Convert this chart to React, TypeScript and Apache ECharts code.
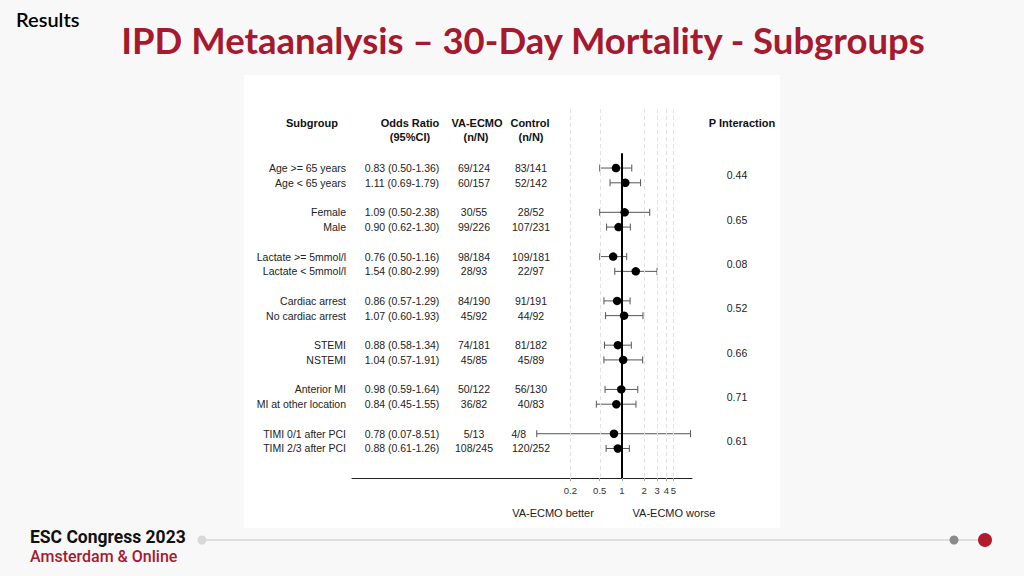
import React, { useEffect, useRef } from "react";
import * as echarts from "echarts";

const subgroups = [
  "Age >= 65 years", "Age < 65 years",
  "Female", "Male",
  "Lactate >= 5mmol/l", "Lactate < 5mmol/l",
  "Cardiac arrest", "No cardiac arrest",
  "STEMI", "NSTEMI",
  "Anterior MI", "MI at other location",
  "TIMI 0/1 after PCI", "TIMI 2/3 after PCI",
];
const oddsRatios = [0.83, 1.11, 1.09, 0.90, 0.76, 1.54, 0.86, 1.07, 0.88, 1.04, 0.98, 0.84, 0.78, 0.88];
const ciLow = [0.50, 0.69, 0.50, 0.62, 0.50, 0.80, 0.57, 0.60, 0.58, 0.57, 0.59, 0.45, 0.07, 0.61];
const ciHigh = [1.36, 1.79, 2.38, 1.30, 1.16, 2.99, 1.29, 1.93, 1.34, 1.91, 1.64, 1.55, 8.51, 1.26];
const ecmoCounts = ["69/124", "60/157", "30/55", "99/226", "98/184", "28/93", "84/190", "45/92", "74/181", "45/85", "50/122", "36/82", "5/13", "108/245"];
const controlCounts = ["83/141", "52/142", "28/52", "107/231", "109/181", "22/97", "91/191", "44/92", "81/182", "45/89", "56/130", "40/83", "4/8", "120/252"];
const pInteraction = ["0.44", "0.65", "0.08", "0.52", "0.66", "0.71", "0.61"];
const tickValues = [0.2, 0.5, 1, 2, 3, 4, 5];
const gridValues = [0.2, 0.5, 2, 3, 4, 5];

const X_MIN = -3.66;
const X_MAX = 0.95;
const Y_MIN = -4;
const Y_MAX = 21;

const rowY = subgroups.map((_, i) => Math.floor(i / 2) * 3 + (i % 2));
const lg = (v: number) => Math.log10(v);
const fmt = (v: number) => v.toFixed(2);

const TXT = "#222";
const BODY_FONT = "Liberation Sans, Arial, sans-serif";
const RED = "#a6192e";

export default function App() {
  const ref = useRef<HTMLDivElement>(null);

  useEffect(() => {
    document.body.style.margin = "0";
    if (!ref.current) return;
    const chart = echarts.init(ref.current, undefined, { renderer: "svg" });

    const bodyText = (text: string, x: number, align: string, y: number) => ({
      type: "text",
      x,
      y,
      style: {
        text,
        fill: TXT,
        fontSize: 10.5,
        fontFamily: BODY_FONT,
        textAlign: align,
        textVerticalAlign: "middle",
      },
    });

    const header = (text: string, x: number, y: number) => ({
      type: "text",
      x,
      y,
      style: {
        text,
        fill: "#111",
        fontSize: 11,
        fontWeight: "bold",
        fontFamily: BODY_FONT,
        textAlign: "center",
        textVerticalAlign: "middle",
      },
    });

    const option: any = {
      animation: false,
      backgroundColor: "transparent",
      grid: { left: 352, right: 332, top: 109, bottom: 98, containLabel: false },
      xAxis: {
        type: "value",
        min: X_MIN,
        max: X_MAX,
        axisLine: { show: true, onZero: false, lineStyle: { color: "#222", width: 1 } },
        axisTick: {
          show: true,
          length: 3,
          customValues: tickValues.map(lg),
          lineStyle: { color: "#aaa" },
        },
        axisLabel: {
          show: true,
          customValues: tickValues.map(lg),
          formatter: (v: number) => String(Math.round(Math.pow(10, v) * 10) / 10),
          fontSize: 9.5,
          color: "#333",
          fontFamily: BODY_FONT,
          margin: 7,
        },
        splitLine: { show: false },
      },
      yAxis: {
        type: "value",
        inverse: true,
        min: Y_MIN,
        max: Y_MAX,
        show: false,
      },
      series: [
        {
          type: "scatter",
          data: [],
          z: 1,
          silent: true,
          markLine: {
            silent: true,
            symbol: "none",
            label: { show: false },
            data: [
              ...gridValues.map((v) => ({
                xAxis: lg(v),
                lineStyle: { color: "#e2e2e2", type: [4, 3], width: 1 },
              })),
              [
                { coord: [0, -1], lineStyle: { color: "#000", width: 2, type: "solid" } },
                { coord: [0, Y_MAX] },
              ],
            ],
          },
        },
        {
          type: "custom",
          z: 3,
          silent: true,
          data: subgroups.map((_, i) => [lg(ciLow[i]), lg(ciHigh[i]), rowY[i]]),
          encode: { x: [0, 1], y: 2 },
          renderItem: (params: any, api: any) => {
            const lo = api.coord([api.value(0), api.value(2)]);
            const hi = api.coord([api.value(1), api.value(2)]);
            const h = 3.5;
            const st = { stroke: "#555", lineWidth: 1 };
            return {
              type: "group",
              children: [
                { type: "line", shape: { x1: lo[0], y1: lo[1], x2: hi[0], y2: hi[1] }, style: st },
                { type: "line", shape: { x1: lo[0], y1: lo[1] - h, x2: lo[0], y2: lo[1] + h }, style: st },
                { type: "line", shape: { x1: hi[0], y1: hi[1] - h, x2: hi[0], y2: hi[1] + h }, style: st },
              ],
            };
          },
        },
        {
          type: "scatter",
          z: 4,
          silent: true,
          symbol: "circle",
          symbolSize: 8.5,
          itemStyle: { color: "#000", opacity: 1 },
          data: subgroups.map((_, i) => [lg(oddsRatios[i]), rowY[i]]),
        },
        {
          type: "custom",
          z: 5,
          silent: true,
          clip: false,
          data: subgroups.map((_, i) => [X_MIN, rowY[i], i]),
          encode: { x: 0, y: 1 },
          renderItem: (params: any, api: any) => {
            const i = api.value(2);
            const y = api.coord([api.value(0), api.value(1)])[1];
            const loX = api.coord([lg(ciLow[i]), api.value(1)])[0];
            return {
              type: "group",
              children: [
                bodyText(subgroups[i], 346, "right", y),
                bodyText(`${fmt(oddsRatios[i])} (${fmt(ciLow[i])}-${fmt(ciHigh[i])})`, 402, "center", y),
                bodyText(ecmoCounts[i], 474, "center", y),
                bodyText(controlCounts[i], Math.min(531, loX - 18), "center", y),
              ],
            };
          },
        },
        {
          type: "custom",
          z: 5,
          silent: true,
          clip: false,
          data: pInteraction.map((_, g) => [X_MIN, g * 3 + 0.5, g]),
          encode: { x: 0, y: 1 },
          renderItem: (params: any, api: any) => {
            const g = api.value(2);
            const y = api.coord([api.value(0), api.value(1)])[1];
            return bodyText(pInteraction[g], 737, "center", y);
          },
        },
      ],
      graphic: [
        {
          type: "text",
          x: 16,
          y: 19,
          style: { text: "Results", fill: "#000", fontSize: 20, fontWeight: 600, fontFamily: "Lato, sans-serif", textVerticalAlign: "middle" },
        },
        {
          type: "text",
          x: 523,
          y: 40,
          style: {
            text: "IPD Metaanalysis \u2013 30-Day Mortality - Subgroups",
            fill: RED,
            fontSize: 36.5,
            fontWeight: "bold",
            fontFamily: "Lato, sans-serif",
            textAlign: "center",
            textVerticalAlign: "middle",
          },
        },
        header("Subgroup", 312, 123),
        header("Odds Ratio", 410, 123),
        header("(95%CI)", 410, 137),
        header("VA-ECMO", 477, 123),
        header("(n/N)", 476, 137),
        header("Control", 530, 123),
        header("(n/N)", 531, 137),
        header("P Interaction", 742, 123),
        {
          type: "text",
          x: 553,
          y: 513,
          style: { text: "VA-ECMO better", fill: TXT, fontSize: 11, fontFamily: BODY_FONT, textAlign: "center", textVerticalAlign: "middle" },
        },
        {
          type: "text",
          x: 674,
          y: 513,
          style: { text: "VA-ECMO worse", fill: TXT, fontSize: 11, fontFamily: BODY_FONT, textAlign: "center", textVerticalAlign: "middle" },
        },
        {
          type: "line",
          shape: { x1: 202, y1: 540, x2: 985, y2: 540 },
          style: { stroke: "#dedede", lineWidth: 2 },
        },
        { type: "circle", shape: { cx: 202, cy: 540, r: 4.5 }, style: { fill: "#d8d8d8" } },
        { type: "circle", shape: { cx: 954, cy: 540, r: 4.5 }, style: { fill: "#8a8a8a" } },
        { type: "circle", shape: { cx: 985, cy: 540, r: 7 }, style: { fill: "#b01b2e" } },
        {
          type: "text",
          x: 30,
          y: 537,
          style: { text: "ESC Congress 2023", fill: "#111", fontSize: 17.5, fontWeight: "bold", fontFamily: "Roboto, sans-serif", textVerticalAlign: "middle" },
        },
        {
          type: "text",
          x: 30,
          y: 556.5,
          style: { text: "Amsterdam & Online", fill: RED, fontSize: 16, fontWeight: 500, fontFamily: "Roboto, sans-serif", textVerticalAlign: "middle" },
        },
      ],
    };

    chart.setOption(option);
    return () => chart.dispose();
  }, []);

  return (
    <div style={{ position: "fixed", left: 0, top: 0, width: 1024, height: 576, background: "#f8f8f8" }}>
      <div style={{ position: "absolute", left: 244, top: 75, width: 536, height: 453, background: "#fff" }} />
      <div ref={ref} style={{ position: "absolute", left: 0, top: 0, width: 1024, height: 576 }} />
    </div>
  );
}
